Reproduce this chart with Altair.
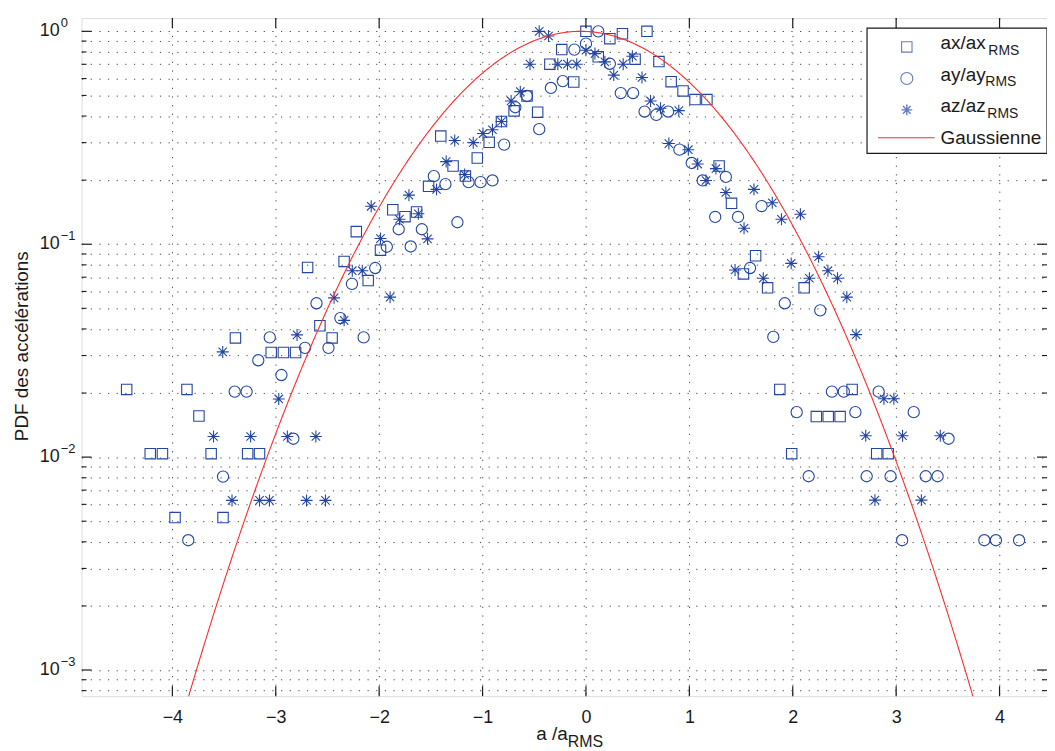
import numpy as np
import pandas as pd
import altair as alt

# ---------------- data ----------------
AX_X = [0.00, 0.353, 0.590, 0.231, -0.234, 0.119, 0.475, 0.706, -0.349, 0.824,
        -0.118, 0.939, 1.055, 1.170, -0.570, -0.695, -0.467, -0.817, -1.404, -0.936,
        -1.051, -1.285, -1.166, -1.522, 1.288, 1.408, -1.868, -1.750, -1.638, -2.221,
        -1.987, 1.641, 1.523, 1.757, 2.110, 1.875, 2.574, 2.228, 2.343, 2.458,
        1.990, 2.812, 2.923, -2.692, -2.339, -2.106, -3.390, -2.573, -2.455, -3.044,
        -2.926, -2.808, -4.442, -3.859, -3.743, -4.214, -4.096, -3.625, -3.272, -3.157,
        -3.974, -3.510]
AX_Y = [1.00, 0.974, 1.00, 0.924, 0.821, 0.759, 0.740, 0.721, 0.701, 0.580,
        0.578, 0.525, 0.478, 0.478, 0.497, 0.423, 0.417, 0.377, 0.322, 0.301,
        0.254, 0.233, 0.209, 0.187, 0.233, 0.1556, 0.1452, 0.1347, 0.1417, 0.1146,
        0.0938, 0.0883, 0.0725, 0.0624, 0.0624, 0.0208, 0.0208, 0.0155, 0.0155, 0.0155,
        0.01038, 0.01038, 0.01038, 0.0778, 0.0830, 0.0675, 0.0363, 0.0414, 0.0363, 0.0310,
        0.0310, 0.0310, 0.0208, 0.0208, 0.0156, 0.01038, 0.01038, 0.01038, 0.01038, 0.01038,
        0.0052, 0.0052]

AY_X = [0.119, 0.000, -0.112, 0.231, -0.224, -0.339, 0.337, 0.456, -0.570, -0.683,
        0.567, 0.680, 0.795, -0.452, -0.791, 0.904, 1.023, 1.129, 1.353, -1.471,
        -1.359, -1.135, -1.019, -0.904, -1.811, -1.587, -1.243, -1.926, -1.695, 1.250,
        1.471, 1.699, 1.587, 1.923, 2.266, 1.812, 2.379, 2.494, 2.831, 2.038,
        2.606, 3.170, 3.507, 2.154, 2.715, 2.946, 3.286, 3.401, 3.058, 3.853,
        3.965, 4.189, -2.038, -2.263, -2.606, -2.375, -3.058, -2.150, -2.717, -2.490,
        -3.169, -2.945, -3.397, -3.282, -2.830, -3.510, -3.846]
AY_Y = [1.00, 0.875, 0.821, 0.704, 0.584, 0.542, 0.513, 0.513, 0.497, 0.440,
        0.420, 0.405, 0.420, 0.347, 0.2935, 0.278, 0.2408, 0.1993, 0.207, 0.2088,
        0.1915, 0.1956, 0.1956, 0.1993, 0.1176, 0.1176, 0.1268, 0.0973, 0.0976, 0.1343,
        0.1343, 0.1511, 0.0773, 0.0528, 0.0489, 0.0367, 0.0203, 0.0203, 0.0203, 0.01626,
        0.01626, 0.01626, 0.0122, 0.00813, 0.00813, 0.00813, 0.00813, 0.00813, 0.00407, 0.00407,
        0.00407, 0.00407, 0.0773, 0.0651, 0.0528, 0.0450, 0.0365, 0.0365, 0.0326, 0.0326,
        0.0285, 0.0243, 0.0203, 0.0203, 0.0122, 0.0081, 0.00407]

AZ_X = [-0.452, -0.362, 0.000, 0.087, 0.183, 0.449, 0.360, -0.541, -0.272, -0.179,
        -0.089, 0.269, 0.542, -0.635, -0.724, 0.625, 0.721, 0.898, -0.817, -0.904,
        -0.996, -1.090, -1.269, 0.802, 0.990, 1.081, 1.257, 1.161, -1.352, -1.173,
        -1.445, -1.712, -2.077, -1.804, -1.621, -1.987, -1.532, 1.353, 1.529, 1.625,
        1.802, 1.891, 2.074, 2.250, 1.985, 1.442, 2.340, 2.433, 1.715, 2.161,
        2.523, 2.613, 2.882, 2.978, 2.706, 3.062, 3.427, 2.795, 3.244, -2.260,
        -2.163, -2.436, -1.894, -2.339, -2.794, -3.513, -2.971, -3.602, -3.243, -2.888,
        -2.612, -3.423, -3.157, -3.061, -2.702, -2.519]
AZ_Y = [1.00, 0.951, 0.815, 0.786, 0.719, 0.764, 0.701, 0.701, 0.701, 0.701,
        0.701, 0.623, 0.607, 0.521, 0.471, 0.471, 0.435, 0.424, 0.377, 0.345,
        0.331, 0.300, 0.307, 0.297, 0.278, 0.238, 0.2266, 0.1993, 0.2444, 0.2126,
        0.181, 0.170, 0.1507, 0.131, 0.139, 0.1063, 0.106, 0.175, 0.1189, 0.181,
        0.1566, 0.131, 0.1382, 0.0873, 0.0813, 0.0757, 0.0751, 0.0692, 0.0692, 0.0692,
        0.0564, 0.0376, 0.0188, 0.0188, 0.0126, 0.0126, 0.0126, 0.00628, 0.00628, 0.0751,
        0.0751, 0.0560, 0.0564, 0.0439, 0.0375, 0.0312, 0.01876, 0.0125, 0.0125, 0.0125,
        0.0125, 0.00626, 0.00626, 0.00626, 0.00626, 0.00626]

SERIES = ["ax", "ay", "az"]
GAUSS_MEAN = -0.05
GAUSS_SIGMA = 1.0

X_TICKS = [-4, -3, -2, -1, 0, 1, 2, 3, 4]
Y_MAJOR = [1.0, 0.1, 0.01, 0.001]
Y_SUP = ["0", "\u22121", "\u22122", "\u22123"]
Y_MINOR = [0.0008, 0.0009,
           0.002, 0.003, 0.004, 0.005, 0.006, 0.007, 0.008, 0.009,
           0.02, 0.03, 0.04, 0.05, 0.06, 0.07, 0.08, 0.09,
           0.2, 0.3, 0.4, 0.5, 0.6, 0.7, 0.8, 0.9]

# ---------------- tables ----------------
pts = pd.concat([
    pd.DataFrame({"x": AX_X, "y": AX_Y, "s": "ax"}),
    pd.DataFrame({"x": AY_X, "y": AY_Y, "s": "ay"}),
    pd.DataFrame({"x": AZ_X, "y": AZ_Y, "s": "az"}),
], ignore_index=True)

gx = np.linspace(-3.95, 3.85, 800)
gauss = pd.DataFrame({"x": gx, "y": np.exp(-((gx - GAUSS_MEAN) ** 2) / (2 * GAUSS_SIGMA ** 2))})

xt = pd.DataFrame({"x": X_TICKS})
ymaj = pd.DataFrame({"y": Y_MAJOR, "sup": Y_SUP})
ymin = pd.DataFrame({"y": Y_MINOR})
one = pd.DataFrame({"k": [0]})

# ---------------- styling ----------------
W, H = 971, 682
FONT = "Liberation Sans"
BLUE = "#2445a2"
RED = "#ff2a2a"
INK = "#1a1a1a"
ASTER = "M0,-1L0,1M-1,0L1,0M-0.7,-0.7L0.7,0.7M-0.7,0.7L0.7,-0.7"

xs = alt.Scale(domain=[-4.878, 4.459], nice=False, zero=False)
ys = alt.Scale(type="log", domain=[7.535e-4, 1.154], nice=False)

grid_vals = sorted(Y_MAJOR + Y_MINOR)

points = alt.Chart(pts).mark_point(filled=False, opacity=1).encode(
    x=alt.X("x:Q", scale=xs, axis=alt.Axis(values=X_TICKS, format="d", grid=True, gridDash=[1.2, 7.5],
                                           gridColor="#444", gridWidth=1, ticks=False, domain=False,
                                           labelFont=FONT, labelFontSize=18, labelColor=INK,
                                           labelPadding=12, title="")),
    y=alt.Y("y:Q", scale=ys, axis=alt.Axis(values=grid_vals, grid=True, gridDash=[1.2, 7.5],
                                           gridColor="#444", gridWidth=1, ticks=False, domain=False,
                                           labels=False, title="")),
    shape=alt.Shape("s:N", scale=alt.Scale(domain=SERIES, range=["square", "circle", ASTER]), legend=None),
    size=alt.Size("s:N", scale=alt.Scale(domain=SERIES, range=[110, 145, 120]), legend=None),
    strokeWidth=alt.StrokeWidth("s:N", scale=alt.Scale(domain=SERIES, range=[1.1, 1.1, 1.4]), legend=None),
    color=alt.value(BLUE),
)

line = alt.Chart(gauss).mark_line(color=RED, strokeWidth=1.1, clip=True).encode(
    x=alt.X("x:Q", scale=xs), y=alt.Y("y:Q", scale=ys))

# inward ticks
tick_bot = alt.Chart(xt).mark_rule(color=INK, strokeWidth=1.2).encode(
    x=alt.X("x:Q", scale=xs), y=alt.value(H), y2=alt.value(H - 10))
tick_top = alt.Chart(xt).mark_rule(color=INK, strokeWidth=1.2).encode(
    x=alt.X("x:Q", scale=xs), y=alt.value(0), y2=alt.value(10))
tick_l_maj = alt.Chart(ymaj).mark_rule(color=INK, strokeWidth=1.2).encode(
    y=alt.Y("y:Q", scale=ys), x=alt.value(0), x2=alt.value(10))
tick_r_maj = alt.Chart(ymaj).mark_rule(color=INK, strokeWidth=1.2).encode(
    y=alt.Y("y:Q", scale=ys), x=alt.value(W), x2=alt.value(W - 10))
tick_l_min = alt.Chart(ymin).mark_rule(color=INK, strokeWidth=1.1).encode(
    y=alt.Y("y:Q", scale=ys), x=alt.value(0), x2=alt.value(5))
tick_r_min = alt.Chart(ymin).mark_rule(color=INK, strokeWidth=1.1).encode(
    y=alt.Y("y:Q", scale=ys), x=alt.value(W), x2=alt.value(W - 5))

# y tick labels 10^n
ylab = alt.Chart(ymaj).mark_text(align="right", baseline="middle", font=FONT, fontSize=18,
                                  color=INK).encode(
    y=alt.Y("y:Q", scale=ys), x=alt.value(-22), text=alt.value("10"))
ysup = alt.Chart(ymaj).mark_text(align="left", baseline="middle", font=FONT, fontSize=13,
                                  color=INK, dy=-8).encode(
    y=alt.Y("y:Q", scale=ys), x=alt.value(-21), text="sup:N")

# axis titles
ytitle = alt.Chart(one).mark_text(angle=270, align="center", baseline="alphabetic", font=FONT,
                                   fontSize=19, color=INK).encode(
    x=alt.value(-54), y=alt.value(330), text=alt.value("PDF des accélérations"))
xtitle_a = alt.Chart(one).mark_text(align="right", baseline="alphabetic", font=FONT,
                                     fontSize=19, color=INK).encode(
    x=alt.value(489), y=alt.value(726), text=alt.value("a /a"))
xtitle_s = alt.Chart(one).mark_text(align="left", baseline="alphabetic", font=FONT,
                                     fontSize=16, color=INK).encode(
    x=alt.value(489), y=alt.value(733), text=alt.value("RMS"))

# legend
leg_box = alt.Chart(one).mark_rect(fill="white", stroke=INK, strokeWidth=1.2).encode(
    x=alt.value(790), x2=alt.value(971), y=alt.value(10), y2=alt.value(136))
leg_sq = alt.Chart(one).mark_point(shape="square", size=110, filled=False, color=BLUE,
                                    strokeWidth=1.1).encode(x=alt.value(830), y=alt.value(29))
leg_ci = alt.Chart(one).mark_point(shape="circle", size=145, filled=False, color=BLUE,
                                    strokeWidth=1.1).encode(x=alt.value(830), y=alt.value(60.7))
leg_as = alt.Chart(one).mark_point(shape=ASTER, size=120, filled=False, color=BLUE,
                                    strokeWidth=1.4).encode(x=alt.value(830), y=alt.value(92.3))
leg_ln = alt.Chart(one).mark_rule(color=RED, strokeWidth=1.1).encode(
    x=alt.value(801), x2=alt.value(858), y=alt.value(120.3))

def leg_text(txt, x, y, size):
    return alt.Chart(one).mark_text(align="left", baseline="alphabetic", font=FONT,
                                    fontSize=size, color=INK).encode(
        x=alt.value(x), y=alt.value(y), text=alt.value(txt))

leg_txt = [
    leg_text("ax/ax", 864, 31.3, 19), leg_text("RMS", 912, 37, 14),
    leg_text("ay/ay", 864, 63, 19), leg_text("RMS", 909, 68.7, 14),
    leg_text("az/az", 864, 94.7, 19), leg_text("RMS", 911, 100.4, 14),
    leg_text("Gaussienne", 864, 126.3, 19),
]

chart = alt.layer(
    points, line,
    tick_bot, tick_top, tick_l_maj, tick_r_maj, tick_l_min, tick_r_min,
    ylab, ysup, ytitle, xtitle_a, xtitle_s,
    leg_box, leg_sq, leg_ci, leg_as, leg_ln, *leg_txt,
).properties(
    width=W, height=H,
    autosize=alt.AutoSizeParams(type="none"),
    padding={"left": 74, "top": 8, "right": 0, "bottom": 53},
).configure_view(
    stroke=INK, strokeWidth=1.3
).configure(background="white")

chart.save("out.html", embed_options={"renderer": "svg", "actions": False})
